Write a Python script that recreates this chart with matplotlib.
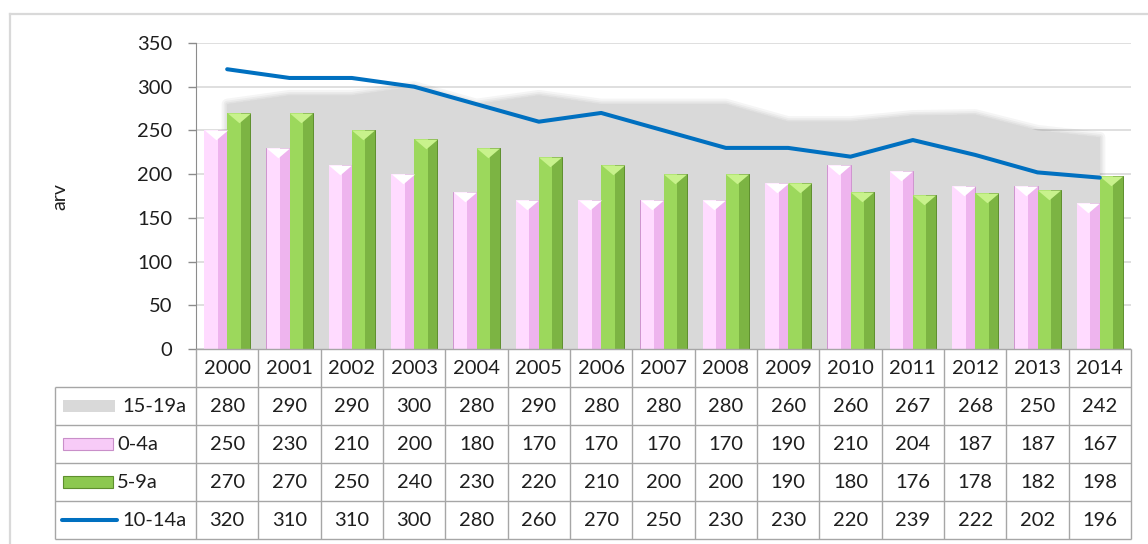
import matplotlib
matplotlib.use("Agg")
import matplotlib.pyplot as plt
import matplotlib.patheffects as pe
import numpy as np
from matplotlib.path import Path
from matplotlib.markers import MarkerStyle
from matplotlib.patches import Rectangle
from matplotlib.lines import Line2D

# ---- data -------------------------------------------------------------
years = [2000, 2001, 2002, 2003, 2004, 2005, 2006, 2007,
         2008, 2009, 2010, 2011, 2012, 2013, 2014]
age_15_19 = [280, 290, 290, 300, 280, 290, 280, 280, 280, 260, 260, 267, 268, 250, 242]
age_0_4 = [250, 230, 210, 200, 180, 170, 170, 170, 170, 190, 210, 204, 187, 187, 167]
age_5_9 = [270, 270, 250, 240, 230, 220, 210, 200, 200, 190, 180, 176, 178, 182, 198]
age_10_14 = [320, 310, 310, 300, 280, 260, 270, 250, 230, 230, 220, 239, 222, 202, 196]
series_labels = ["15-19a", "0-4a", "5-9a", "10-14a"]
y_label = "arv"
y_ticks = [0, 50, 100, 150, 200, 250, 300, 350]

# ---- figure -----------------------------------------------------------
W, H = 1148, 544
plt.rcParams["font.family"] = ["Lato", "DejaVu Sans"]
fig = plt.figure(figsize=(W / 100, H / 100), dpi=100)
TXT = "#1e1e1e"
GRID = "#d9d9d9"
TABLE_LINE = "#a6a6a6"
FS = 14.5


def box(l, t, r, b):
    return [l / W, 1 - b / H, (r - l) / W, (b - t) / H]


# outer chart frame
fig.add_artist(Line2D([10 / W, 10 / W], [0, 1 - 14 / H], color="#d9d9d9", lw=1.6))
fig.add_artist(Line2D([10 / W, 1], [1 - 14 / H, 1 - 14 / H], color="#d9d9d9", lw=1.6))

# ---- main plot --------------------------------------------------------
PL, PR, PT, PB = 196, 1131, 43, 349
ax = fig.add_axes(box(PL, PT, PR, PB))
n = len(years)
x = np.arange(n)
ax.set_xlim(-0.5, n - 0.5)
ax.set_ylim(0, 350)
ax.set_yticks(y_ticks)
ax.grid(axis="y", color=GRID, lw=1.2, zorder=0)
ax.set_axisbelow(True)
for s in ("top", "right", "bottom"):
    ax.spines[s].set_visible(False)
ax.spines["left"].set_color("#8c8c8c")
ax.tick_params(axis="y", length=6, width=1, color="#8c8c8c",
               labelsize=FS, labelcolor=TXT, pad=11)
ax.tick_params(axis="x", bottom=False, labelbottom=False)
ax.patch.set_visible(False)

# 15-19a area with a soft surrounding shadow
shadow = [pe.Stroke(linewidth=lw, foreground="k", alpha=0.04) for lw in (8, 5, 2.5)]
ax.fill_between(x, 0, age_15_19, color="#d9d9d9", lw=0, zorder=1,
                path_effects=shadow + [pe.Normal()])

# bars with bevel shading
bw = 0.37
pink_x = x - bw / 2
green_x = x + bw / 2
tri = MarkerStyle(Path([(-1, 0), (1, 0), (0, -0.85), (-1, 0)],
                       [Path.MOVETO, Path.LINETO, Path.LINETO, Path.CLOSEPOLY]))
ms = bw * (PR - PL) / n * 0.72

ax.bar(pink_x, age_0_4, width=bw, color="#EEB4EE", edgecolor="#CF95CF", lw=0.7, zorder=3)
ax.bar(pink_x - bw * 0.2, age_0_4, width=bw * 0.58, color="#FFDBFF", lw=0, zorder=3.1)
ax.plot(pink_x, age_0_4, ls="none", marker=tri, ms=ms, mew=0, color="#FFFFFF", zorder=3.2)

ax.bar(green_x, age_5_9, width=bw, color="#7CB443", edgecolor="#5E8F2E", lw=0.7, zorder=3)
ax.bar(green_x - bw * 0.2, age_5_9, width=bw * 0.58, color="#9CD85C", lw=0, zorder=3.1)
ax.plot(green_x, age_5_9, ls="none", marker=tri, ms=ms, mew=0, color="#C8F28C", zorder=3.2)

# 10-14a line
ax.plot(x, age_10_14, color="#0070C0", lw=2.9, solid_capstyle="round",
        solid_joinstyle="round", zorder=5)

fig.text(60 / W, 1 - 197 / H, y_label, rotation=90, ha="center", va="center",
         fontsize=14, color=TXT)

# ---- data table -------------------------------------------------------
TL, TB = 55, 539
cat_px = (PR - PL) / n
tab = fig.add_axes(box(TL, PB, PR, TB))
xl = -0.5 - (PL - TL) / cat_px
tab.set_xlim(xl, n - 0.5)
tab.set_ylim(5, 0)
tab.axis("off")


def px2x(px):
    return xl + (px - TL) / cat_px


lk = dict(color=TABLE_LINE, lw=1.0, clip_on=False, solid_capstyle="butt")
tab.plot([-0.5, n - 0.5], [0, 0], **lk)
for r in range(1, 6):
    tab.plot([xl, n - 0.5], [r, r], **lk)
for i in range(n + 1):
    tab.plot([i - 0.5, i - 0.5], [0, 5], **lk)
tab.plot([xl, xl], [1, 5], **lk)

for i, yr in enumerate(years):
    tab.text(i, 0.5, str(yr), ha="center", va="center", fontsize=FS, color=TXT)

rows = [age_15_19, age_0_4, age_5_9, age_10_14]
for r, vals in enumerate(rows, start=1):
    for i, v in enumerate(vals):
        tab.text(i, r + 0.5, str(v), ha="center", va="center", fontsize=FS, color=TXT)

# legend keys in the first column
kx0 = px2x(63)
kh = 0.30
tab.add_patch(Rectangle((kx0, 1.5 - kh / 2), px2x(115) - kx0, kh,
                        facecolor="#d9d9d9", lw=0, clip_on=False))
tab.add_patch(Rectangle((kx0, 2.5 - kh / 2), px2x(113) - kx0, kh,
                        facecolor="#F7CBF7", edgecolor="#C98FC9", lw=0.8, clip_on=False))
tab.add_patch(Rectangle((kx0, 3.5 - kh / 2), px2x(113) - kx0, kh,
                        facecolor="#8CC850", edgecolor="#5E8F2E", lw=0.8, clip_on=False))
tab.plot([px2x(62), px2x(117)], [4.5, 4.5], color="#0070C0", lw=2.9,
         solid_capstyle="round", clip_on=False)
label_px = [122, 117, 117, 122]
for r, (lab, lp) in enumerate(zip(series_labels, label_px), start=1):
    tab.text(px2x(lp), r + 0.5, lab, ha="left", va="center", fontsize=FS, color=TXT)

fig.savefig("out.png", dpi=100)
